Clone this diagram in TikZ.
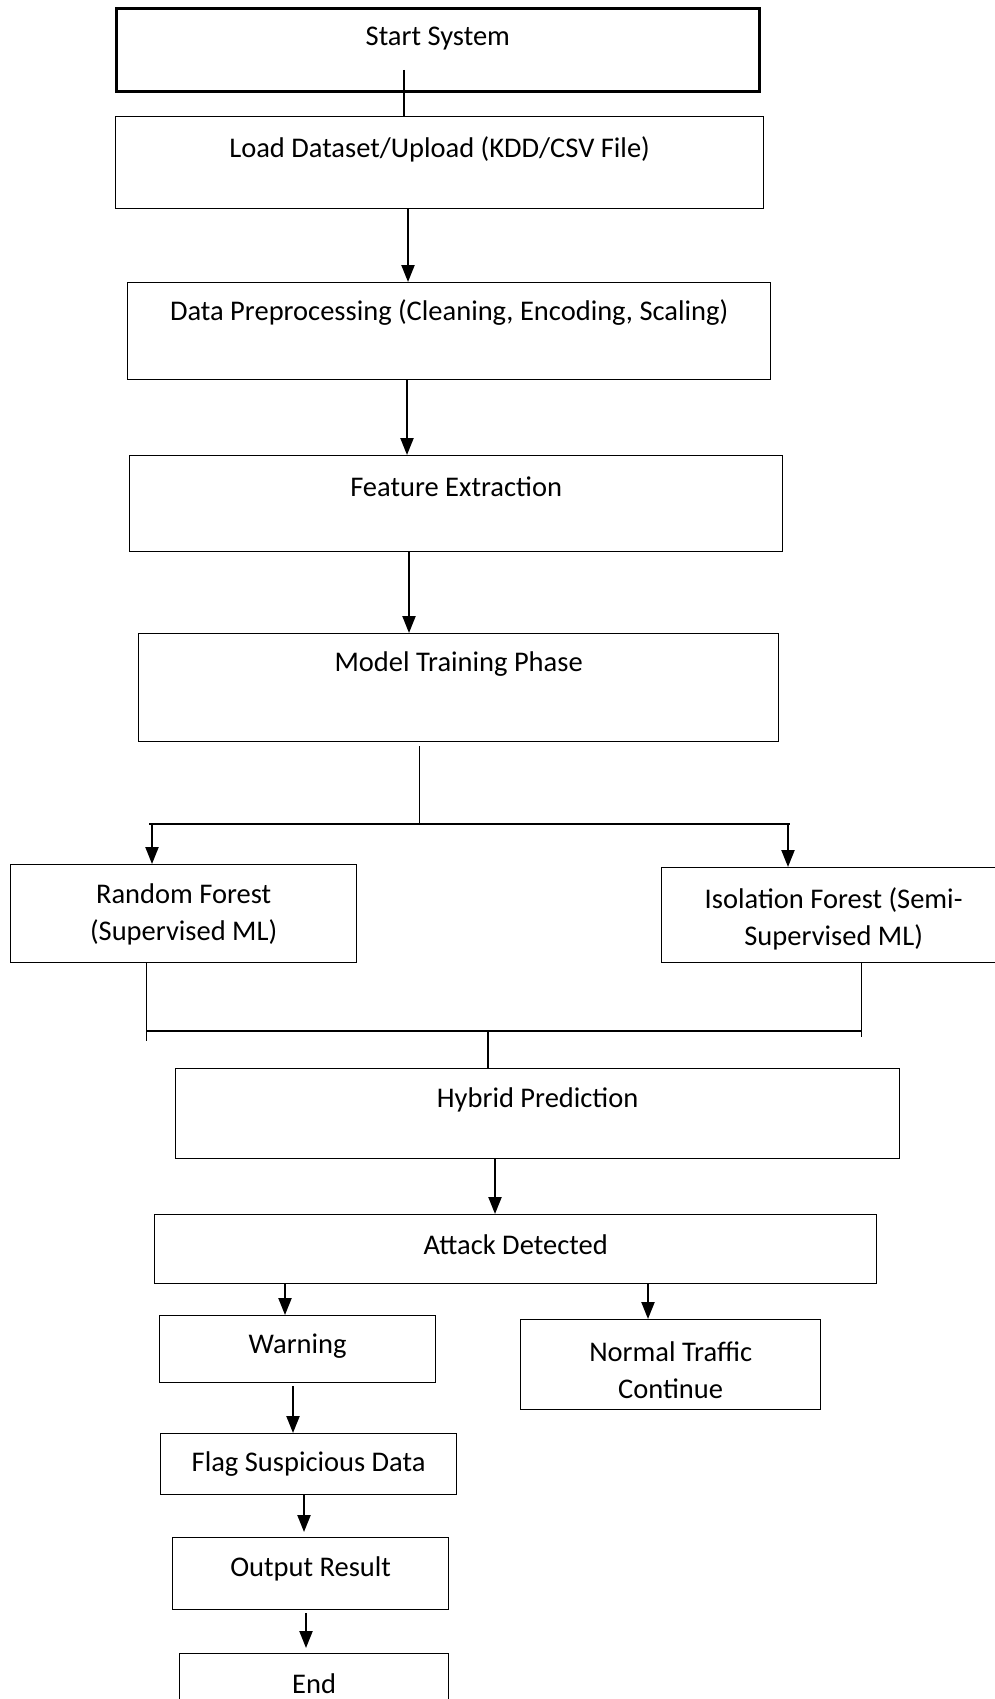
\documentclass[tikz,border=0pt]{standalone}
\usepackage{fontspec}
\setmainfont{Carlito}
\usetikzlibrary{arrows.meta}
\begin{document}
\begin{tikzpicture}[x=1pt,y=-1pt,
    box/.style={draw,rectangle,line width=1.3pt,anchor=north west,inner sep=0pt},
    txt/.style={font=\fontsize{28.5}{37}\selectfont,align=center,inner sep=0pt},
    link/.style={line width=1.4pt},
    arr/.style={line width=2.2pt,-{Triangle[width=13pt,length=17pt]}}]
    \useasboundingbox (0,0) rectangle (994,1699);

    \node[box,minimum width=643,minimum height=83,line width=2.6pt] (start) at (115,7) {};
    \node[txt] (startT) at ([yshift=-32pt]start.north) {Start System};

    \node[box,minimum width=648,minimum height=92] (load) at (115,116) {};
    \node[txt] (loadT) at ([yshift=-33pt]load.north) {Load Dataset/Upload (KDD/CSV File)};

    \node[box,minimum width=643,minimum height=97] (prep) at (127,282) {};
    \node[txt] (prepT) at ([yshift=-31pt]prep.north) {Data Preprocessing (Cleaning, Encoding, Scaling)};

    \node[box,minimum width=653,minimum height=96] (feat) at (129,455) {};
    \node[txt] (featT) at ([yshift=-32pt]feat.north) {Feature Extraction};

    \node[box,minimum width=640,minimum height=108] (train) at (138,633) {};
    \node[txt] (trainT) at ([yshift=-31pt]train.north) {Model Training Phase};

    \node[box,minimum width=346,minimum height=98] (rf) at (10,864) {};
    \node[txt] (rfT) at ([yshift=-50pt]rf.north) {Random Forest\\(Supervised ML)};

    \node[box,minimum width=340,minimum height=95] (iso) at (661,867) {};
    \node[txt] (isoT) at ([xshift=2pt,yshift=-52pt]iso.north) {Isolation Forest (Semi-\\Supervised ML)};

    \node[box,minimum width=724,minimum height=90] (hyb) at (175,1068) {};
    \node[txt] (hybT) at ([yshift=-32pt]hyb.north) {Hybrid Prediction};

    \node[box,minimum width=722,minimum height=69] (attack) at (154,1214) {};
    \node[txt] (attackT) at ([yshift=-31pt]attack.north) {Attack Detected};

    \node[box,minimum width=276,minimum height=67] (warn) at (159,1315) {};
    \node[txt] (warnT) at ([yshift=-31pt]warn.north) {Warning};

    \node[box,minimum width=300,minimum height=90] (normal) at (520,1319) {};
    \node[txt] (normalT) at ([yshift=-51pt]normal.north) {Normal Traffic\\Continue};

    \node[box,minimum width=296,minimum height=61] (flag) at (160,1433) {};
    \node[txt] (flagT) at ([yshift=-31pt]flag.north) {Flag Suspicious Data};

    \node[box,minimum width=276,minimum height=72] (out) at (172,1537) {};
    \node[txt] (outT) at ([yshift=-32pt]out.north) {Output Result};

    \node[box,minimum width=269,minimum height=60] (fin) at (179,1653) {};
    \node[txt] (finT) at ([yshift=-31pt]fin.north) {End};

    \coordinate (s1) at (404,70);
    \draw[link] (s1) -- (s1 |- load.north);
    \draw[arr] (408,0 |- load.south) -- (408,0 |- prep.north);
    \draw[arr] (407,0 |- prep.south) -- (407,0 |- feat.north);
    \draw[arr] (409,0 |- feat.south) -- (409,0 |- train.north);

    \coordinate (t1) at (419,746);
    \coordinate (t2) at (419,824);
    \draw[link,line width=1pt] (t1) -- (t2);
    \coordinate (sl) at (149,824);
    \coordinate (sr) at (790,824);
    \draw[link] (sl) -- (sr);
    \draw[arr] (152,0 |- sl) -- (152,0 |- rf.north);
    \draw[arr] (788,0 |- sr) -- (788,0 |- iso.north);

    \coordinate (ml) at (146,1031);
    \coordinate (mr) at (862,1031);
    \draw[link,line width=1pt] (146,0 |- rf.south) -- (146,1041);
    \draw[link,line width=1pt] (861,0 |- iso.south) -- (861,1037);
    \draw[link] (ml) -- (mr);
    \draw[link,line width=2pt] (488,0 |- ml) -- (488,0 |- hyb.north);

    \draw[arr] (495,0 |- hyb.south) -- (495,0 |- attack.north);
    \draw[arr] (285,0 |- attack.south) -- (285,0 |- warn.north);
    \draw[arr] (648,0 |- attack.south) -- (648,0 |- normal.north);
    \draw[arr] (293,1386) -- (293,0 |- flag.north);
    \draw[arr] (304,0 |- flag.south) -- (304,1532);
    \draw[arr] (306,1613) -- (306,1648);
\end{tikzpicture}
\end{document}
